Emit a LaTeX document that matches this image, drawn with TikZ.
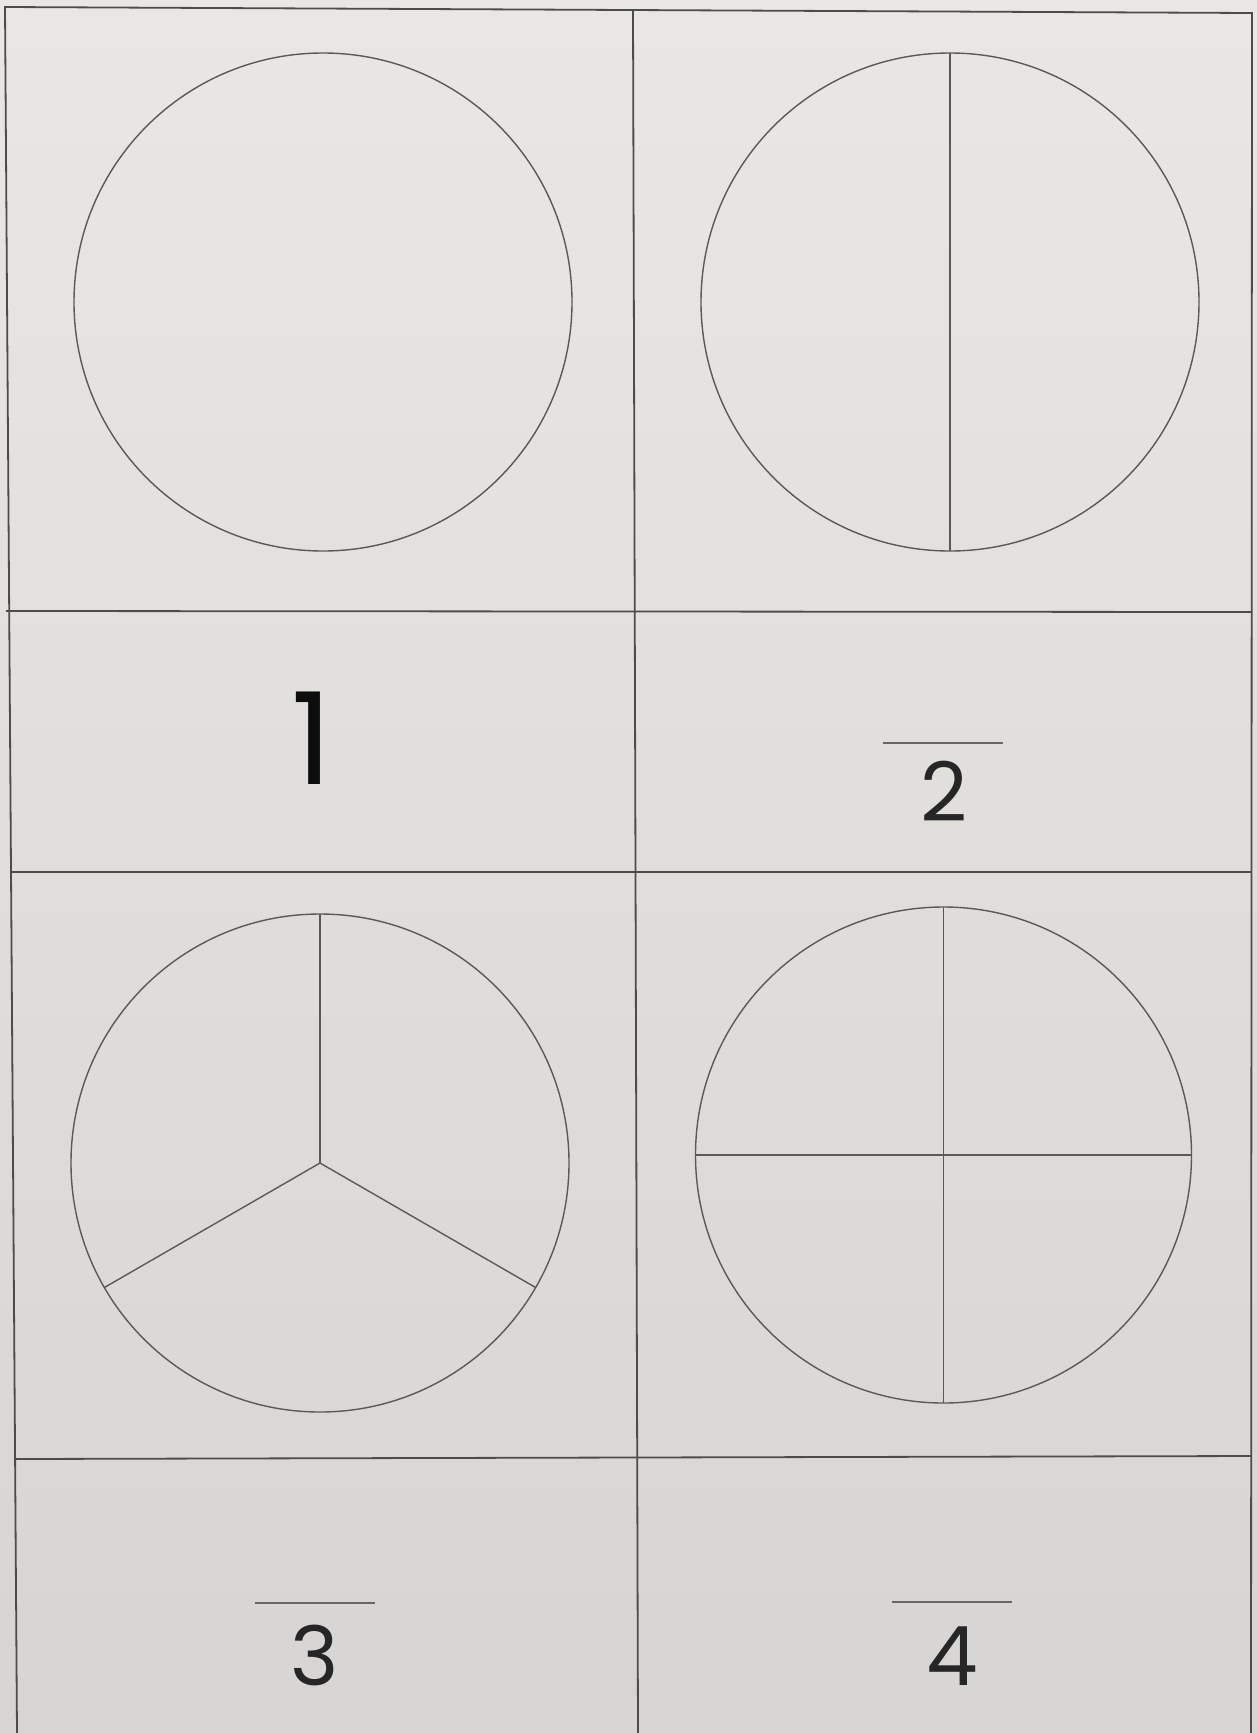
\documentclass[tikz,border=0pt]{standalone}
\usepackage{fontspec}
\setmainfont{Poppins}
\begin{document}
\begin{tikzpicture}[x=1pt,y=-1pt,
  gridline/.style={draw=black!70,line width=1.8pt},
  ring/.style={draw=black!65,line width=1.4pt},
  bar/.style={draw=black!60,line width=1.6pt},
  digit/.style={inner sep=0pt,text=black!85,font=\fontsize{82}{90}\selectfont},
  bigdigit/.style={inner sep=0pt,text=black!95,font=\fontsize{128}{140}\selectfont}]
\definecolor{paperA}{HTML}{E9E7E3}
\definecolor{paperB}{HTML}{D7D5D3}
\shade[top color=paperA,bottom color=paperB] (0,0) rectangle (1257,1733);
\useasboundingbox (0,0) rectangle (1257,1733);
% grid
\coordinate (TL) at (5,7);
\coordinate (TR) at (1252,13);
\coordinate (BL) at (17,1733);
\coordinate (BR) at (1251,1733);
\coordinate (MT) at (633,10);
\coordinate (MB) at (638,1733);
\draw[gridline] (BL) -- (TL) -- (TR) -- (BR);
\draw[gridline] (MT) -- (MB);
\draw[gridline] (6,611) -- (1252,612);
\draw[gridline] (11,872) -- (1252,872);
\draw[gridline] (14,1459) -- (1251,1456);
% circle 1
\draw[ring] (323,302) circle[radius=249];
% circle 2
\coordinate (c2) at (950,302);
\draw[ring] (c2) circle[radius=249];
\draw[ring] (c2) ++(0,-249) -- ++(0,498);
% circle 3
\coordinate (c3) at (320,1163);
\draw[ring] (c3) circle[radius=249];
\draw[ring] (c3) -- ++(0,-249);
\draw[ring] (c3) -- ++(-215.6,124.5);
\draw[ring] (c3) -- ++(215.6,124.5);
% circle 4
\coordinate (c4) at (943.5,1155);
\draw[ring] (c4) circle[radius=248];
\draw[ring] (c4) ++(0,-248) -- ++(0,496);
\draw[ring] (c4) ++(-248,0) -- ++(496,0);
% labels
\node[bigdigit] (one) at (312,738) {1};
\draw[bar] (883,743) -- (1003,743);
\node[digit] (two) at (944,791) {2};
\draw[bar] (255,1603) -- (375,1603);
\node[digit] (three) at (315,1655) {3};
\draw[bar] (892,1602) -- (1012,1602);
\node[digit] (four) at (952,1656) {4};
\end{tikzpicture}
\end{document}
